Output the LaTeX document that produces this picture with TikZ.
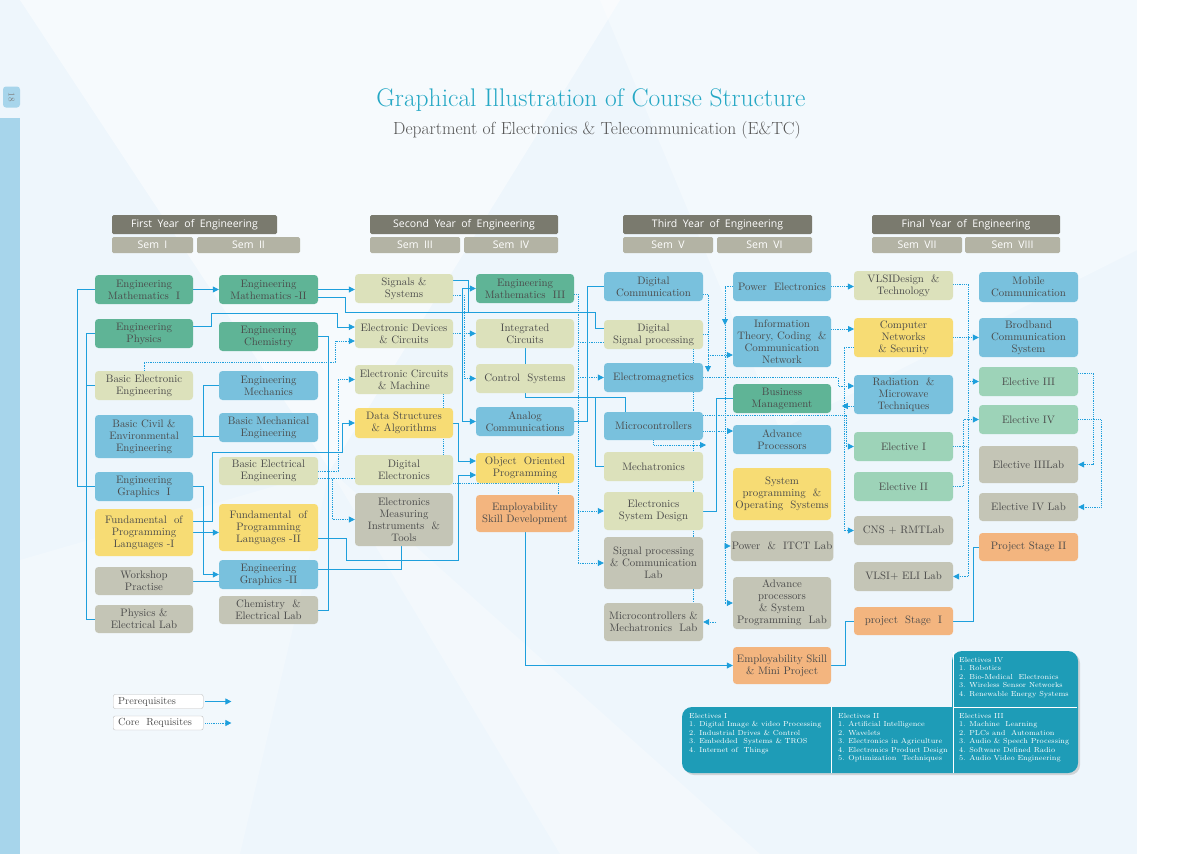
\documentclass[tikz,border=0pt]{standalone}
\usepackage{fontspec}
\newfontfamily\hdrfont{Open Sans}
\usetikzlibrary{arrows.meta,backgrounds}
\pgfdeclarelayer{bg0}
\pgfsetlayers{bg0,background,main}
\definecolor{pagebg}{HTML}{EEF6FC}
\definecolor{leftbar}{HTML}{A7D5EB}
\definecolor{hdrdark}{HTML}{7A7A6E}
\definecolor{hdrsem}{HTML}{B3B3A4}
\definecolor{cgreen}{HTML}{5FB496}
\definecolor{colive}{HTML}{DCE1BB}
\definecolor{cblue}{HTML}{79C1DD}
\definecolor{cyellow}{HTML}{F7DC74}
\definecolor{cgray}{HTML}{C4C5B6}
\definecolor{corange}{HTML}{F3B57F}
\definecolor{clgreen}{HTML}{9DD3B8}
\definecolor{connc}{HTML}{1E9FDC}
\definecolor{txt}{HTML}{4A4A4A}
\definecolor{tealc}{HTML}{1E9CB7}
\definecolor{titlec}{HTML}{26A8C5}
\definecolor{subc}{HTML}{555555}
\newcommand\boxfnt{\fontsize{10.8}{12}\selectfont\addfontfeatures{LetterSpace=3}}
\newcommand\mkbox[7]{\node[cbox,fill=#2,minimum width={(#5)-(#3)},minimum height={(#6)-(#4)}] (#1) at ({((#3)+(#5))/2},{((#4)+(#6))/2}) {#7};}
\newcommand\mkhdr[7]{\node[hbox,fill=#2,minimum width={(#5)-(#3)},minimum height={(#6)-(#4)}] (#1) at ({((#3)+(#5))/2},{((#4)+(#6))/2}) {#7};}
\begin{document}
\begin{tikzpicture}[x=1pt,y=-1pt,
  cbox/.style={rounded corners=3.5pt, inner sep=1pt, align=center, text=txt, font=\boxfnt},
  hbox/.style={rounded corners=1.5pt, inner sep=1pt, text=white, font=\hdrfont\fontsize{10.5}{12}\selectfont},
  pre/.style={draw=connc, line width=0.8pt, -{Triangle[length=6pt,width=6pt]}},
  preline/.style={draw=connc, line width=0.8pt},
  core/.style={draw=connc, line width=0.8pt, densely dotted, -{Triangle[length=6pt,width=6pt]}},
  coreline/.style={draw=connc, line width=0.8pt, densely dotted},
  eltext/.style={anchor=north west, align=left, text=white, inner sep=0pt, font=\fontsize{7.3}{8.45}\selectfont},
  legbox/.style={draw=black!25, fill=white, rounded corners=2pt, inner sep=1pt, anchor=west, minimum width=90pt, minimum height=14pt, text=txt, font=\fontsize{10.3}{11}\selectfont\addfontfeatures{LetterSpace=3}, align=left, text width=80pt}
]
\useasboundingbox (0,0) rectangle (1200,854);
\begin{pgfonlayer}{bg0}
  \fill[pagebg] (0,0) rectangle (1200,854);
  \fill[white,opacity=0.5] (20,0) -- (620,0) -- (330,470) -- cycle;
  \fill[white,opacity=0.35] (600,0) -- (1137,0) -- (1137,250) -- (780,430) -- cycle;
  \fill[white,opacity=0.3] (330,470) -- (560,854) -- (760,854) -- cycle;
  \fill[white,opacity=0.25] (20,560) -- (330,470) -- (240,854) -- (20,854) -- cycle;
  \fill[white] (1137,0) rectangle (1200,854);
  \fill[leftbar] (0,118) rectangle (20,854);
  \node[fill=leftbar, rounded corners=3pt, minimum width=17pt, minimum height=21pt, inner sep=0pt] (pgbox) at (11.5,97) {};
  \node[rotate=-90, text=black!50, font=\fontsize{9}{10}\selectfont] (pgnum) at (pgbox.center) {18};
\end{pgfonlayer}

% titles
\node[text=titlec, font=\fontsize{25.5}{28}\selectfont] (title) at (591,100) {Graphical Illustration of Course Structure};
\node[text=subc, font=\fontsize{17.5}{20}\selectfont] (subtitle) at (597,130) {Department of Electronics \& Telecommunication (E\&TC)};

% headers
\mkhdr{fy}{hdrdark}{112}{215}{277}{234}{First\ \ Year\ \ of\ \ Engineering}
\mkhdr{s1}{hdrsem}{112}{237}{193}{253}{Sem\ \ I}
\mkhdr{s2}{hdrsem}{197}{237}{300}{253}{Sem\ \ II}
\mkhdr{sy}{hdrdark}{370}{215}{558}{234}{Second\ \ Year\ \ of\ \ Engineering}
\mkhdr{s3}{hdrsem}{370}{237}{460}{253}{Sem\ \ III}
\mkhdr{s4}{hdrsem}{464}{237}{558}{253}{Sem\ \ IV}
\mkhdr{ty}{hdrdark}{623}{215}{812}{234}{Third\ \ Year\ \ of\ \ Engineering}
\mkhdr{s5}{hdrsem}{623}{237}{713}{253}{Sem\ \ V}
\mkhdr{s6}{hdrsem}{717}{237}{812}{253}{Sem\ \ VI}
\mkhdr{fny}{hdrdark}{872}{215}{1060}{234}{Final\ \ Year\ \ of\ \ Engineering}
\mkhdr{s7}{hdrsem}{872}{237}{962}{253}{Sem\ \ VII}
\mkhdr{s8}{hdrsem}{965}{237}{1060}{253}{Sem\ \ VIII}

% column 1
\mkbox{em1}{cgreen}{95}{275}{193}{304}{Engineering\\Mathematics~~I}
\mkbox{ep}{cgreen}{95}{319}{193}{348}{Engineering\\Physics}
\mkbox{bee}{colive}{95}{371}{193}{400}{Basic Electronic\\Engineering}
\mkbox{bce}{cblue}{95}{415}{193}{458}{Basic Civil \&\\Environmental\\Engineering}
\mkbox{eg1}{cblue}{95}{472}{193}{501}{Engineering\\Graphics~~I}
\mkbox{fpl1}{cyellow}{95}{509}{193}{556}{Fundamental~~of\\Programming\\Languages~-I}
\mkbox{wp}{cgray}{95}{567}{193}{595}{Workshop\\Practise}
\mkbox{pel}{cgray}{95}{605}{193}{633}{Physics \&\\Electrical Lab}
% column 2
\mkbox{em2}{cgreen}{219}{275}{318}{304}{Engineering\\Mathematics -II}
\mkbox{ec}{cgreen}{219}{322}{318}{351}{Engineering\\Chemistry}
\mkbox{emech}{cblue}{219}{371}{318}{400}{Engineering\\Mechanics}
\mkbox{bme}{cblue}{219}{413}{318}{442}{Basic Mechanical\\Engineering}
\mkbox{belec}{colive}{219}{457}{318}{485}{Basic Electrical\\Engineering}
\mkbox{fpl2}{cyellow}{219}{504}{318}{551}{Fundamental~~of\\Programming\\Languages -II}
\mkbox{eg2}{cblue}{219}{560}{318}{589}{Engineering\\Graphics -II}
\mkbox{cel}{cgray}{219}{596}{318}{624}{Chemistry~~\&\\Electrical Lab}
% column 3
\mkbox{ss}{colive}{355}{274}{453}{303}{Signals \&\\Systems}
\mkbox{edc}{colive}{355}{319}{453}{348}{Electronic Devices\\\& Circuits}
\mkbox{ecm}{colive}{355}{365}{453}{394}{Electronic Circuits\\\& Machine}
\mkbox{dsa}{cyellow}{355}{408}{453}{438}{Data Structures\\\& Algorithms}
\mkbox{de}{colive}{355}{455}{453}{485}{Digital\\Electronics}
\mkbox{emit}{cgray}{355}{493}{453}{546}{Electronics\\Measuring\\Instruments~~\&\\Tools}
% column 4
\mkbox{em3}{cgreen}{476}{274}{574}{303}{Engineering\\Mathematics~~III}
\mkbox{ic}{colive}{476}{319}{574}{348}{Integrated\\Circuits}
\mkbox{cs}{colive}{476}{364}{574}{393}{Control~~Systems}
\mkbox{ac}{cblue}{476}{407}{574}{436}{Analog\\Communications}
\mkbox{oop}{cyellow}{476}{453}{574}{483}{Object~~Oriented\\Programming}
\mkbox{esd}{corange}{476}{495}{574}{532}{Employability\\Skill Development}
% column 5
\mkbox{dc}{cblue}{604}{272}{703}{301}{Digital\\Communication}
\mkbox{dsp}{colive}{604}{320}{703}{349}{Digital\\Signal processing}
\mkbox{emag}{cblue}{604}{363}{703}{392}{Electromagnetics}
\mkbox{mc}{cblue}{604}{412}{703}{440}{Microcontrollers}
\mkbox{mech}{colive}{604}{452}{703}{481}{Mechatronics}
\mkbox{esdes}{colive}{604}{492}{703}{530}{Electronics\\System Design}
\mkbox{spcl}{cgray}{604}{537}{703}{589}{Signal processing\\\& Communication\\Lab}
\mkbox{mml}{cgray}{604}{603}{703}{641}{Microcontrollers~\&\\Mechatronics~~Lab}
% column 6
\mkbox{pe}{cblue}{733}{272}{831}{301}{Power~~Electronics}
\mkbox{itc}{cblue}{733}{316}{831}{367}{Information\\Theory, Coding~~\&\\Communication\\Network}
\mkbox{bm}{cgreen}{733}{384}{831}{413}{Business\\Management}
\mkbox{ap}{cblue}{733}{425}{831}{454}{Advance\\Processors}
\mkbox{spos}{cyellow}{733}{468}{831}{520}{System\\programming~~\&\\Operating~~Systems}
\mkbox{pitl}{cgray}{733}{531}{831}{561}{Power~~\&~~ITCT Lab}
\mkbox{apsl}{cgray}{733}{577}{831}{629}{Advance\\processors\\\& System\\Programming~~Lab}
\mkbox{esmp}{corange}{733}{647}{831}{684}{Employability Skill\\\& Mini Project}
% column 7
\mkbox{vlsi}{colive}{854}{271}{953}{300}{VLSIDesign~~\&\\Technology}
\mkbox{cns}{cyellow}{854}{318}{953}{357}{Computer\\Networks\\\& Security}
\mkbox{rmt}{cblue}{854}{375}{953}{414}{Radiation~~\&\\Microwave\\Techniques}
\mkbox{el1}{clgreen}{854}{432}{953}{461}{Elective I}
\mkbox{el2}{clgreen}{854}{472}{953}{501}{Elective II}
\mkbox{cnsl}{cgray}{854}{516}{953}{545}{CNS + RMTLab}
\mkbox{vlsil}{cgray}{854}{562}{953}{591}{VLSI+ ELI Lab}
\mkbox{ps1}{corange}{854}{607}{953}{635}{project~~Stage~~I}
% column 8
\mkbox{mob}{cblue}{979}{272}{1078}{302}{Mobile\\Communication}
\mkbox{bcs}{cblue}{979}{318}{1078}{357}{Brodband\\Communication\\System}
\mkbox{el3}{clgreen}{979}{367}{1078}{396}{Elective III}
\mkbox{el4}{clgreen}{979}{405}{1078}{434}{Elective IV}
\mkbox{el3l}{cgray}{979}{446}{1078}{483}{Elective IIILab}
\mkbox{el4l}{cgray}{979}{493}{1078}{521}{Elective IV Lab}
\mkbox{ps2}{corange}{979}{533}{1078}{561}{Project Stage II}

% legend
\node[legbox] (legpre) at (113,701.5) {Prerequisites};
\node[legbox] (legcore) at (113,723) {Core~~Requisites};
\draw[pre] ([xshift=2pt]legpre.east) -- ++(26,0);
\draw[core] ([xshift=2pt]legcore.east) -- ++(26,0);

% electives panel
\fill[black!30,opacity=0.5] (684,742) [rounded corners=10pt] |- (900,709) [sharp corners] -- (954,709) [rounded corners=10pt] |- (1080,653) |- (684,775) -- cycle;
\fill[tealc] (682,740) [rounded corners=10pt] |- (900,707) [sharp corners] -- (952,707) [rounded corners=10pt] |- (1078,651) |- (682,773) -- cycle;
\draw[white, line width=0.6pt] (831,707) -- (831,773);
\draw[white, line width=0.6pt] (953,652) -- (953,773);
\draw[white, line width=0.6pt] (953,707) -- (1077,707);
\node[eltext] (e1) at (689,713) {Electives I\\1.\enspace Digital Image \& video Processing\\2.\enspace Industrial Drives \& Control\\3.\enspace Embedded~ Systems \& TROS\\4.\enspace Internet of~ Things};
\node[eltext] (e2) at (838,713) {Electives II\\1.\enspace Artificial Intelligence\\2.\enspace Wavelets\\3.\enspace Electronics in Agriculture\\4.\enspace Electronics Product Design\\5.\enspace Optimization~ Techniques};
\node[eltext] (e3) at (959,713) {Electives III\\1.\enspace Machine~ Learning\\2.\enspace PLCs and~ Automation\\3.\enspace Audio \& Speech Processing\\4.\enspace Software Defined Radio\\5.\enspace Audio Video Engineering};
\node[eltext] (e4) at (959,657) {Electives IV\\1.\enspace Robotics\\2.\enspace Bio-Medical~ Electronics\\3.\enspace Wireless Sensor Networks\\4.\enspace Renewable Energy Systems};

% connectors
\begin{pgfonlayer}{background}
% year 1
\draw[preline] (em1.west) -- ++(-17,0) |- (eg1.west);
\draw[preline] (ep.west) -- ++(-8,0) |- (pel.west);
\draw[preline] (bee.west) -- ++(-8,0);
\draw[pre] (em1.east) -- (em2.west);
\draw[pre] (fpl1.east) -- (fpl1.east -| fpl2.west);
\draw[pre] (eg1.east) -- ++(10,0) |- (eg2.west);
\draw[preline] (wp.east) -- (wp.east -| eg2.west);
\draw[preline] (bce.east) -- (bce.east -| bme.west);
\draw[preline] (bce.east) -- ++(10,0) |- (emech.west);
\draw[pre] ([yshift=11.5pt]fpl1.east) -| (212,452) -- (342,452) |- (dsa.west);
\draw[pre] ([yshift=-10.5pt]fpl2.east) -| (346,560) -| (458,475) -- (476,475);
\draw[preline] ([yshift=5pt]eg2.east) -| ([xshift=-3pt]emit.south);
\draw[preline] (ec.east) -| ([xshift=10pt]cel.east) -- (cel.east);
\draw[pre] ([yshift=7.5pt]ep.east) -| (211,313) -| (337,327) -- ([yshift=6.5pt]edc.west);
\draw[pre] (em2.east) -- (em2.east -| ss.west);
\draw[preline] ([yshift=-7.5pt]em2.east) -| (345,312) -| (595,328) -- ([yshift=6.5pt]dsp.west);
\draw[preline] ([yshift=8.5pt]ss.east) -| (468,312);
\draw[pre] (462,312) |- (em3.west);
\draw[pre] (462,312) |- (ac.west);
\draw[pre] (dsa.east) -| (458,461) -- ([yshift=7pt]oop.west);
\draw[core] (bee.north) |- (335,362) |- ([yshift=-7.5pt]edc.west);
\draw[core] (belec.east) -| (338,379.5) -- (ecm.west);
\draw[core] ([yshift=-7pt]belec.east) -| (332,519.5) -- (emit.west);
\draw[coreline] ([yshift=-7pt]belec.east) -- ([yshift=-8pt]de.west);
\draw[core] (edc.east) -- (ic.west);
\draw[core] ([yshift=-6.5pt]ss.east) -| (464,378.5) -- (cs.west);
\draw[coreline] ([xshift=39pt]ecm.south) -- ([xshift=39pt]de.north);
\draw[preline] (ic.south) -- (cs.north);
\draw[preline] (cs.south) |- (625,397) -- ([xshift=-28.5pt]mc.north);
\draw[preline] (595,397) |- (mech.west);
\draw[preline] (ac.east) -| (587,286.5) -- (dc.west);
\draw[coreline] ([yshift=-5.5pt]em3.east) -| (578,563);
\draw[core] (578,377.5) -- (emag.west);
\draw[core] (578,511) -- (esdes.west);
\draw[core] (578,563) -- (spcl.west);
\draw[coreline] (578,342) -- ([yshift=-7.5pt]dsp.west);
\draw[pre] (esd.south) |- (esmp.west);
\draw[coreline] ([yshift=-13pt]de.east) -| ([xshift=33pt]esd.north);
% year 3
\draw[core] ([yshift=-7.5pt]dc.east) -| (708,372);
\draw[coreline] (dsp.east) -- (708,334.5);
\draw[core] (708,355) -- ([yshift=-13.5pt]itc.west);
\draw[coreline] ([xshift=39.5pt]dsp.south) -- ([xshift=39.5pt]mml.north);
\draw[core] (pe.west) -| (725,325);
\draw[coreline] (725,325) -- (725,603);
\draw[core] (725,546) -- (pitl.west);
\draw[core] (725,603) -- (apsl.west);
\draw[core] ([yshift=-5pt]mc.east) -- (733,431);
\draw[core] ([yshift=11pt]mc.east) -| (846,446.5) -- (el1.west);
\draw[core] (mc.south) |- (706,445);
\draw[core] (716,622) -- (mml.east);
\draw[preline] (esdes.east) -| (716,398.5) -- (bm.west);
\draw[core] (emag.east) -| (838,386) -- (854,386);
\draw[core] ([yshift=-11.5pt]rmt.west) -- ++(-12,0);
\draw[core] ([yshift=-9.5pt]cns.west) -| (844,530.5) -- (cnsl.west);
\draw[core] (pe.east) -- (pe.east -| vlsi.west);
\draw[core] ([yshift=12.5pt]itc.east) -- (854,329);
\draw[preline] (esmp.east) -| (845,621) -- (ps1.west);
% year 4
\draw[preline] (ps1.east) -| (973,547) -- (ps2.west);
\draw[coreline] ([yshift=1.5pt]vlsi.east) -| (968,576.5);
\draw[core] (968,576.5) -- (vlsil.east);
\draw[core] (968,381.5) -- (el3.west);
\draw[coreline] (el1.east) -- (968,446.5);
\draw[core] (el2.east) -| (963,419.5) -- (el4.west);
\draw[core] (cns.east) -- (bcs.west);
\draw[core] ([yshift=8.5pt]el3.east) -| (1093,464.5) -- (el3l.east);
\draw[core] (el4.east) -| (1101,507) -- (el4l.east);
\end{pgfonlayer}
\end{tikzpicture}
\end{document}
